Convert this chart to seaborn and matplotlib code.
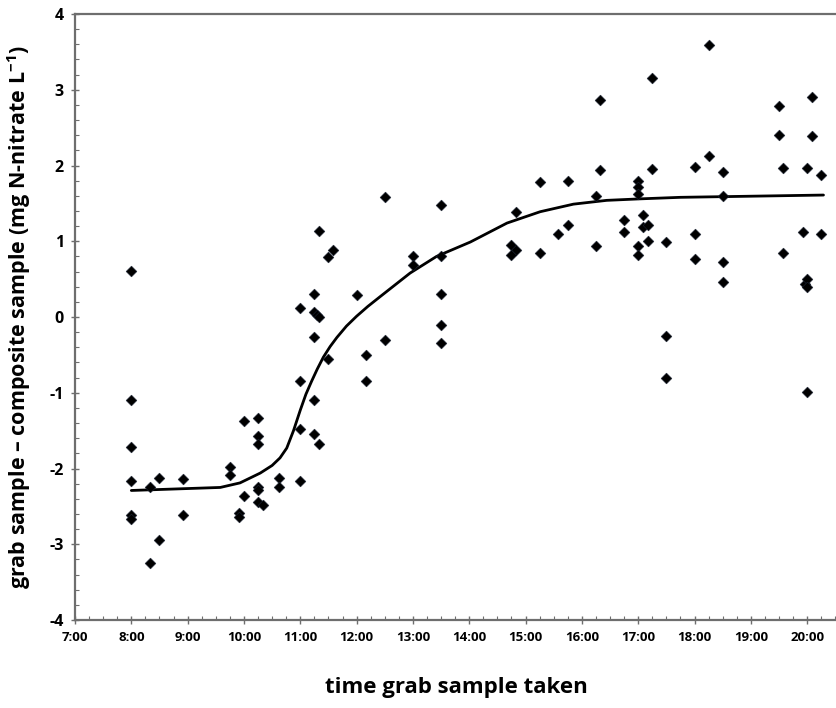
import matplotlib
matplotlib.use("Agg")
import matplotlib.pyplot as plt
from matplotlib.ticker import MultipleLocator, FuncFormatter
import seaborn as sns
import pandas as pd

# Sampling times (decimal hours) and grab - composite differences (mg N-nitrate/L)
sample_hour = [
    8.0, 8.0, 8.0, 8.0, 8.0, 8.0,
    8.33, 8.33, 8.5, 8.5, 8.92, 8.92,
    9.75, 9.75, 9.92, 9.92, 10.0, 10.0,
    10.25, 10.25, 10.25, 10.25, 10.25, 10.25, 10.33,
    10.63, 10.63,
    11.0, 11.0, 11.0, 11.0,
    11.25, 11.25, 11.25, 11.25, 11.25, 11.29, 11.33, 11.33, 11.33,
    11.5, 11.5, 11.58,
    12.0, 12.17, 12.17, 12.5, 12.5,
    13.0, 13.0,
    13.5, 13.5, 13.5, 13.5, 13.5,
    14.75, 14.83, 14.75, 14.83,
    15.25, 15.25, 15.58, 15.75, 15.75,
    16.25, 16.25, 16.33, 16.33,
    16.75, 16.75,
    17.0, 17.0, 17.0, 17.0, 17.0,
    17.08, 17.08, 17.17, 17.17,
    17.25, 17.25,
    17.5, 17.5, 17.5,
    18.0, 18.0, 18.0, 18.25, 18.25,
    18.5, 18.5, 18.5, 18.5,
    19.5, 19.5, 19.58, 19.58,
    19.92, 19.97, 20.0, 20.0, 20.0, 20.0,
    20.08, 20.08,
    20.25, 20.25,
]
difference = [
    0.61, -1.10, -1.71, -2.17, -2.61, -2.67,
    -2.24, -3.25, -2.13, -2.94, -2.14, -2.61,
    -1.98, -2.08, -2.59, -2.64, -1.37, -2.36,
    -1.33, -1.57, -1.68, -2.25, -2.29, -2.44, -2.48,
    -2.13, -2.24,
    0.12, -0.84, -1.48, -2.17,
    0.30, 0.06, -0.26, -1.09, -1.54, 0.03, 1.14, 0.00, -1.67,
    0.79, -0.55, 0.88,
    0.29, -0.50, -0.84, 1.58, -0.30,
    0.81, 0.68,
    1.48, 0.81, 0.31, -0.10, -0.34,
    0.95, 0.88, 0.82, 1.39,
    1.78, 0.84, 1.10, 1.79, 1.21,
    1.60, 0.94, 2.86, 1.94,
    1.28, 1.12,
    1.79, 1.72, 1.63, 0.94, 0.82,
    1.35, 1.19, 1.21, 1.00,
    3.16, 1.95,
    0.99, -0.25, -0.81,
    1.98, 1.10, 0.77, 3.59, 2.13,
    1.92, 1.60, 0.72, 0.46,
    2.79, 2.40, 1.97, 0.85,
    1.12, 0.44, 1.97, 0.50, 0.39, -0.99,
    2.91, 2.39,
    1.88, 1.10,
]

# Fitted trend through the day
trend_hour = [8.0, 9.58, 9.93, 10.29, 10.5, 10.64, 10.76, 10.88, 11.0, 11.1,
              11.2, 11.3, 11.41, 11.53, 11.65, 11.82, 12.0, 12.2, 12.42, 12.95,
              13.42, 14.02, 14.67, 15.26, 15.85, 16.44, 17.04, 17.75, 20.29]
trend_value = [-2.29, -2.25, -2.19, -2.06, -1.96, -1.86, -1.73, -1.50, -1.23, -1.02,
               -0.85, -0.69, -0.53, -0.39, -0.27, -0.12, 0.01, 0.14, 0.27, 0.58,
               0.80, 0.99, 1.24, 1.39, 1.49, 1.54, 1.56, 1.58, 1.61]

x_limits = (7.0, 20.53)
y_limits = (-4.0, 4.0)

sns.set_theme(style="white")
plt.rcParams["font.family"] = ["Open Sans", "DejaVu Sans"]
plt.rcParams["font.weight"] = "bold"
plt.rcParams["mathtext.fontset"] = "custom"
plt.rcParams["mathtext.rm"] = "Open Sans:bold"
plt.rcParams["mathtext.bf"] = "Open Sans:bold"

fig = plt.figure(figsize=(8.37, 7.08), dpi=100)
ax = fig.add_axes([0.0896, 0.1243, 0.9104, 0.8559])

points = pd.DataFrame({"hour": sample_hour, "diff": difference})
trend = pd.DataFrame({"hour": trend_hour, "value": trend_value})

sns.lineplot(data=trend, x="hour", y="value", color="black", linewidth=2.0,
             ax=ax, sort=True, zorder=2)
sns.scatterplot(data=points, x="hour", y="diff", marker="D", s=30,
                color="black", edgecolor="#1a2233", linewidth=0.4,
                ax=ax, zorder=3)

ax.set_xlim(*x_limits)
ax.set_ylim(*y_limits)

ax.xaxis.set_major_locator(MultipleLocator(1.0))
ax.xaxis.set_minor_locator(MultipleLocator(0.25))
ax.yaxis.set_major_locator(MultipleLocator(1.0))
ax.yaxis.set_minor_locator(MultipleLocator(0.2))
ax.xaxis.set_major_formatter(FuncFormatter(lambda v, p: f"{int(round(v))}:00"))
ax.yaxis.set_major_formatter(FuncFormatter(lambda v, p: f"{int(round(v))}"))

spine_color = "#6e6e6e"
for side in ["left", "bottom", "top"]:
    ax.spines[side].set_color(spine_color)
    ax.spines[side].set_linewidth(1.6)
ax.spines["right"].set_visible(False)

ax.tick_params(axis="both", which="major", direction="inout", length=6,
               width=1.0, color=spine_color, pad=5, labelcolor="black")
ax.tick_params(axis="x", which="major", labelsize=9.5)
ax.tick_params(axis="y", which="major", labelsize=11.5)
ax.tick_params(axis="both", which="minor", direction="in", length=3,
               width=0.8, color=spine_color)
ax.tick_params(axis="both", which="both", bottom=True, left=True,
               top=False, right=False)

ax.set_xlabel("time grab sample taken", fontsize=16, fontweight="bold",
              labelpad=24, color="black")
ax.set_ylabel("grab sample \u2013 composite sample (mg N-nitrate L$^{-1}$)",
              fontsize=15.5, fontweight="bold", labelpad=12, color="black")

fig.savefig("out.png", dpi=100)
